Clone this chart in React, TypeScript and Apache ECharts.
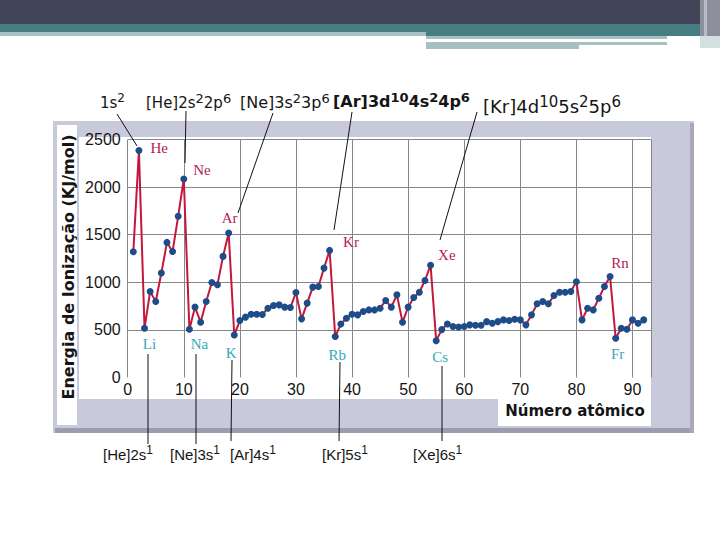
import React, { useEffect, useRef } from 'react';
import * as echarts from 'echarts';

// ---- data ----
const atomicNumbers = [
  1, 2, 3, 4, 5, 6, 7, 8, 9, 10, 11, 12, 13, 14, 15, 16, 17, 18, 19, 20,
  21, 22, 23, 24, 25, 26, 27, 28, 29, 30, 31, 32, 33, 34, 35, 36, 37, 38, 39, 40,
  41, 42, 43, 44, 45, 46, 47, 48, 49, 50, 51, 52, 53, 54, 55, 56, 57, 58, 59, 60,
  61, 62, 63, 64, 65, 66, 67, 68, 69, 70, 71, 72, 73, 74, 75, 76, 77, 78, 79, 80,
  81, 82, 83, 84, 85, 86, 87, 88, 89, 90, 91, 92,
];
const ionizationEnergy = [
  1320, 2385, 518, 903, 798, 1097, 1419, 1324, 1693, 2086,
  507, 739, 581, 798, 998, 974, 1272, 1518, 447, 598,
  634, 665, 665, 662, 728, 756, 763, 739, 735, 893,
  616, 781, 949, 956, 1149, 1335, 430, 561, 623, 665,
  658, 693, 710, 710, 728, 808, 739, 868, 581, 739,
  840, 896, 1019, 1180, 387, 503, 562, 535, 530, 535,
  553, 549, 549, 587, 570, 587, 605, 598, 612, 605,
  553, 658, 774, 798, 774, 861, 896, 896, 903, 1005,
  605, 728, 710, 833, 956, 1061, 412, 518, 507, 605,
  570, 605,
];
const nobleGasNames = ['He', 'Ne', 'Ar', 'Kr', 'Xe', 'Rn'];
const nobleGasZ = [2, 10, 18, 36, 54, 86];
const alkaliNames = ['Li', 'Na', 'K', 'Rb', 'Cs', 'Fr'];
const alkaliZ = [3, 11, 19, 37, 55, 87];
const xTickLabels = [0, 10, 20, 30, 40, 50, 60, 70, 80, 90];
const yTickLabels = [0, 500, 1000, 1500, 2000, 2500];
const yAxisTitle = 'Energia de Ionização (KJ/mol)';
const xAxisTitle = 'Número atômico';
// configurations: [normal, superscript, normal, superscript, ...]
const topConfigs = [
  ['1s', '2'],
  ['[He]2s', '2', '2p', '6'],
  ['[Ne]3s', '2', '3p', '6'],
  ['[Ar]3d', '10', '4s', '2', '4p', '6'],
  ['[Kr]4d', '10', '5s', '2', '5p', '6'],
];
const bottomConfigs = [
  ['[He]2s', '1'],
  ['[Ne]3s', '1'],
  ['[Ar]4s', '1'],
  ['[Kr]5s', '1'],
  ['[Xe]6s', '1'],
];

// ---- styles / layout (not data) ----
const NOBLE_COLOR = '#b3234f';
const ALKALI_COLOR = '#35a9b8';
const GRID_COLOR = '#878787';

const labelLayout: Record<string, any> = {
  He: { position: 'right', distance: 8, offset: [0, -2] },
  Ne: { position: 'right', distance: 6, offset: [0, -9] },
  Ar: { position: 'top', distance: 4, offset: [1, 0] },
  Kr: { position: 'right', distance: 10, offset: [0, -8] },
  Xe: { position: 'right', distance: 4, offset: [0, -10] },
  Rn: { position: 'top', distance: 2, offset: [10, 0] },
  Li: { position: 'bottom', distance: 5, offset: [5, 0] },
  Na: { position: 'bottom', distance: 4, offset: [10, 0] },
  K: { position: 'bottom', distance: 7, offset: [-3, 0] },
  Rb: { position: 'bottom', distance: 7, offset: [2, 0] },
  Cs: { position: 'bottom', distance: 5, offset: [4, 0] },
  Fr: { position: 'bottom', distance: 5, offset: [2, 0] },
};

const topConfigLayout = [
  { x: 100, y: 101, size: 15, sup: 12, weight: 'normal' },
  { x: 146, y: 101, size: 15, sup: 13, weight: 'normal' },
  { x: 240, y: 101, size: 16, sup: 13, weight: 'normal' },
  { x: 333, y: 100, size: 16, sup: 13, weight: 'bold' },
  { x: 483, y: 105, size: 18, sup: 15, weight: 'normal' },
];
const bottomConfigLayout = [
  { x: 103, y: 453 },
  { x: 170, y: 453 },
  { x: 230, y: 453 },
  { x: 322, y: 453 },
  { x: 413, y: 453 },
];
const leaderLines = [
  [117, 114, 137, 146],
  [186, 111, 185, 163],
  [273, 113, 238, 213],
  [352, 112, 334, 230],
  [477, 112, 440, 240],
  [148, 354, 148, 444],
  [196, 354, 196, 444],
  [232, 360, 231, 441],
  [340, 362, 339, 441],
  [442, 366, 442, 441],
];

function richText(parts: string[], size: number, sup: number, weight: string, family: string) {
  let s = '';
  parts.forEach((p, i) => {
    s += i % 2 === 0 ? `{n|${p}}` : `{s|${p}}`;
  });
  return {
    text: s,
    rich: {
      n: {
        fontSize: size,
        fontFamily: family,
        fontWeight: weight,
        fill: '#151515',
        color: '#151515',
        lineHeight: size + 3,
        padding: [3, 0, 0, 0],
        verticalAlign: 'bottom',
      },
      s: {
        fontSize: sup,
        fontFamily: family,
        fontWeight: weight,
        fill: '#151515',
        color: '#151515',
        lineHeight: sup + 2,
        verticalAlign: 'top',
      },
    },
  };
}

export default function App() {
  const ref = useRef<HTMLDivElement>(null);

  useEffect(() => {
    if (!ref.current) return;
    const chart = echarts.init(ref.current, undefined, { renderer: 'svg' });

    const labelled: Record<number, { name: string; color: string }> = {};
    nobleGasZ.forEach((z, i) => (labelled[z] = { name: nobleGasNames[i], color: NOBLE_COLOR }));
    alkaliZ.forEach((z, i) => (labelled[z] = { name: alkaliNames[i], color: ALKALI_COLOR }));

    const seriesData = atomicNumbers.map((z, i) => {
      const item: any = { value: [z, ionizationEnergy[i]] };
      const lab = labelled[z];
      if (lab) {
        const lay = labelLayout[lab.name];
        item.label = {
          show: true,
          formatter: lab.name,
          position: lay.position,
          distance: lay.distance,
          offset: lay.offset,
          color: lab.color,
          fontFamily: 'Liberation Serif',
          fontSize: 15,
        };
      }
      return item;
    });

    const graphics: any[] = [
      // slide header decoration
      { type: 'rect', z: -10, shape: { x: 0, y: 0, width: 720, height: 24 }, style: { fill: '#414356' } },
      { type: 'rect', z: -10, shape: { x: 0, y: 24, width: 720, height: 8 }, style: { fill: '#467e82' } },
      { type: 'rect', z: -10, shape: { x: 426, y: 32, width: 294, height: 4 }, style: { fill: '#467e82' } },
      { type: 'rect', z: -10, shape: { x: 0, y: 32, width: 426, height: 4 }, style: { fill: '#a6c1c3' } },
      { type: 'rect', z: -10, shape: { x: 426, y: 36, width: 241, height: 3 }, style: { fill: '#a6c1c3' } },
      { type: 'rect', z: -10, shape: { x: 426, y: 42, width: 153, height: 7 }, style: { fill: '#a6bfc1' } },
      { type: 'rect', z: -10, shape: { x: 579, y: 42, width: 88, height: 3 }, style: { fill: '#a6bfc1' } },
      { type: 'rect', z: -10, shape: { x: 700, y: 0, width: 20, height: 36 }, style: { fill: '#8e8f9c' } },
      { type: 'rect', z: -10, shape: { x: 704, y: 0, width: 3, height: 36 }, style: { fill: '#b9bac3' } },
      { type: 'rect', z: -10, shape: { x: 700, y: 36, width: 20, height: 12 }, style: { fill: '#d3dfe0' } },
      // chart frame
      { type: 'rect', z: -9, shape: { x: 53, y: 121, width: 641, height: 312 }, style: { fill: '#c9c9dc' } },
      { type: 'rect', z: -9, shape: { x: 55, y: 428, width: 639, height: 5 }, style: { fill: '#9c9cb1' } },
      { type: 'rect', z: -9, shape: { x: 690, y: 123, width: 4, height: 310 }, style: { fill: '#a9a9bd' } },
      { type: 'rect', z: -8, shape: { x: 79, y: 137, width: 572, height: 262 }, style: { fill: '#ffffff' } },
      { type: 'rect', z: -8, shape: { x: 57, y: 125, width: 20, height: 300 }, style: { fill: '#ffffff' } },
      { type: 'rect', z: -8, shape: { x: 498, y: 399, width: 153, height: 27 }, style: { fill: '#ffffff' } },
      // axis titles
      {
        type: 'text',
        x: 68,
        y: 267,
        rotation: Math.PI / 2,
        style: {
          text: yAxisTitle,
          fontFamily: 'DejaVu Sans',
          fontWeight: 'bold',
          fontSize: 16,
          fill: '#151515',
          textAlign: 'center',
          textVerticalAlign: 'middle',
          align: 'center',
          verticalAlign: 'middle',
        },
      },
      {
        type: 'text',
        x: 575,
        y: 411,
        style: {
          text: xAxisTitle,
          fontFamily: 'DejaVu Sans',
          fontWeight: 'bold',
          fontSize: 15,
          fill: '#151515',
          textAlign: 'center',
          textVerticalAlign: 'middle',
          align: 'center',
          verticalAlign: 'middle',
        },
      },
    ];

    leaderLines.forEach(([x1, y1, x2, y2]) => {
      graphics.push({
        type: 'line',
        z: 5,
        shape: { x1, y1, x2, y2 },
        style: { stroke: '#111', lineWidth: 1 },
      });
    });

    topConfigs.forEach((parts, i) => {
      const lay = topConfigLayout[i];
      const rt = richText(parts, lay.size, lay.sup, lay.weight, 'DejaVu Sans');
      graphics.push({
        type: 'text',
        x: lay.x,
        y: lay.y,
        z: 5,
        style: {
          ...rt,
          textAlign: 'left',
          textVerticalAlign: 'middle',
          align: 'left',
          verticalAlign: 'middle',
        },
      });
    });

    bottomConfigs.forEach((parts, i) => {
      const lay = bottomConfigLayout[i];
      const rt = richText(parts, 15, 12, 'normal', 'Liberation Sans');
      graphics.push({
        type: 'text',
        x: lay.x,
        y: lay.y,
        z: 5,
        style: {
          ...rt,
          textAlign: 'left',
          textVerticalAlign: 'middle',
          align: 'left',
          verticalAlign: 'middle',
        },
      });
    });

    chart.setOption({
      animation: false,
      backgroundColor: '#ffffff',
      grid: { left: 127.7, right: 69, top: 139.5, bottom: 162.5, containLabel: false },
      xAxis: {
        type: 'value',
        min: 0,
        max: 93.3,
        interval: 10,
        axisLine: { show: false },
        axisTick: { show: false },
        axisLabel: {
          show: true,
          margin: 4,
          color: '#151515',
          fontFamily: 'Liberation Sans',
          fontSize: 16,
          showMaxLabel: false,
          formatter: (v: number) => (xTickLabels.includes(v) ? String(v) : ''),
        },
        splitLine: { show: true, showMinLine: true, showMaxLine: true, lineStyle: { color: GRID_COLOR, width: 1 } },
      },
      yAxis: {
        type: 'value',
        min: 0,
        max: 2500,
        interval: 500,
        axisLine: { show: false },
        axisTick: { show: false },
        axisLabel: {
          margin: 7,
          color: '#151515',
          fontFamily: 'Liberation Sans',
          fontSize: 16,
          formatter: (v: number) => (yTickLabels.includes(v) ? String(v) : ''),
        },
        splitLine: { show: true, showMinLine: false, showMaxLine: true, lineStyle: { color: GRID_COLOR, width: 1 } },
      },
      graphic: { elements: graphics },
      series: [
        {
          type: 'line',
          data: seriesData,
          symbol: 'circle',
          symbolSize: 7,
          itemStyle: { color: '#1d4c88' },
          lineStyle: { color: '#c4173d', width: 2 },
          label: { show: false },
          z: 3,
        },
      ],
    });

    return () => chart.dispose();
  }, []);

  return (
    <div
      ref={ref}
      style={{ position: 'absolute', left: 0, top: 0, width: 720, height: 540 }}
    />
  );
}
